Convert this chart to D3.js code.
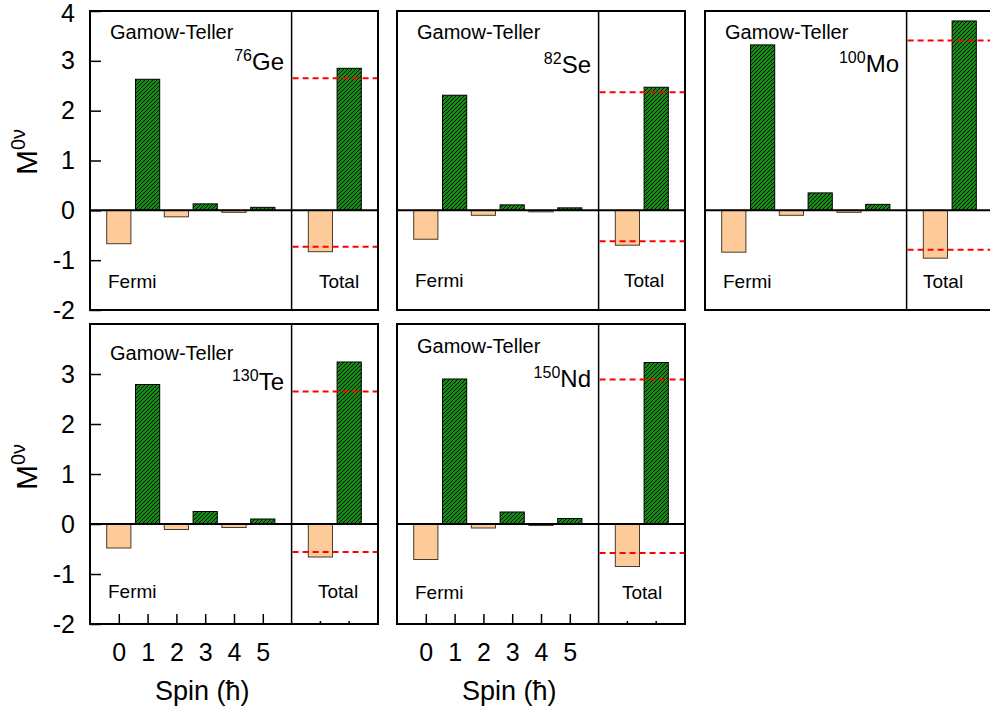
<!DOCTYPE html>
<html>
<head>
<meta charset="utf-8">
<script src="https://cdn.jsdelivr.net/npm/d3@7"></script>
<style>
  body { margin: 0; background: #fff; }
  svg { display: block; }
  svg text { font-family: Arial, "Liberation Sans", Helvetica, sans-serif; }
</style>
</head>
<body>
<svg id="chart" width="990" height="715"></svg>
<script>
(function () {
  'use strict';

  // data
  const spins = [0, 1, 2, 3, 4, 5];
  const yTicksTop = [4, 3, 2, 1, 0, -1, -2];
  const yTicksBottom = [3, 2, 1, 0, -1, -2];

  const massNumbers = ["76", "82", "100", "130", "150"];
  const symbols = ["Ge", "Se", "Mo", "Te", "Nd"];

  // per-spin contributions (even spins Fermi, odd spins Gamow-Teller)
  const geSpin = [-0.67, 2.63, -0.13, 0.13, -0.04, 0.06];
  const seSpin = [-0.58, 2.31, -0.10, 0.11, -0.03, 0.05];
  const moSpin = [-0.84, 3.32, -0.10, 0.35, -0.04, 0.12];
  const teSpin = [-0.48, 2.79, -0.11, 0.25, -0.07, 0.10];
  const ndSpin = [-0.71, 2.90, -0.08, 0.24, -0.03, 0.11];
  const spinValues = [geSpin, seSpin, moSpin, teSpin, ndSpin];

  const totalFermi = [-0.83, -0.70, -0.96, -0.66, -0.85];
  const totalGT = [2.85, 2.47, 3.80, 3.24, 3.23];
  const refFermi = [-0.73, -0.62, -0.79, -0.56, -0.58];
  const refGT = [2.65, 2.37, 3.41, 2.65, 2.89];

  // layout of the five panels
  const panels = [
    { left: 90, top: 11, h: 299, yAxis: true, xAxis: false, gtY: 28, nucY: 59, fermiY: 277, totalX: 229 },
    { left: 397, top: 11, h: 299, yAxis: false, xAxis: false, gtY: 28, nucY: 62, fermiY: 276, totalX: 227 },
    { left: 705, top: 11, h: 299, yAxis: false, xAxis: false, gtY: 28, nucY: 61, fermiY: 277, totalX: 218 },
    { left: 90, top: 324, h: 300, yAxis: true, xAxis: true, gtY: 36, nucY: 66, fermiY: 274, totalX: 228 },
    { left: 397, top: 324, h: 300, yAxis: false, xAxis: true, gtY: 29, nucY: 63, fermiY: 275, totalX: 225 }
  ];
  const panelW = 288;

  const fermiFill = "#fdca9a";
  const fermiStroke = "#4a3a2c";
  const gtFill = "#168c16";

  const svg = d3.select("#chart");

  const defs = svg.append("defs");
  const pat = defs.append("pattern")
    .attr("id", "hatch")
    .attr("patternUnits", "userSpaceOnUse")
    .attr("width", 4)
    .attr("height", 4);
  pat.append("rect").attr("width", 4).attr("height", 4).attr("fill", gtFill);
  pat.append("path")
    .attr("d", "M-1,1 l2,-2 M0,4 l4,-4 M3,5 l2,-2")
    .attr("stroke", "#000")
    .attr("stroke-width", 0.9);

  const x = d3.scaleLinear().domain([-1, 9]).range([0, panelW]);

  panels.forEach(function (p, i) {
    const y = d3.scaleLinear().domain([-2, 4]).range([p.h, 0]);
    const g = svg.append("g").attr("transform", `translate(${p.left},${p.top})`);

    // spin bars
    g.selectAll("rect.spin")
      .data(spins)
      .join("rect")
      .attr("class", "spin")
      .attr("x", s => x(s - 0.42))
      .attr("width", x(0.84) - x(0))
      .attr("y", s => y(Math.max(0, spinValues[i][s])))
      .attr("height", s => Math.abs(y(spinValues[i][s]) - y(0)))
      .attr("fill", s => s % 2 === 0 ? fermiFill : "url(#hatch)")
      .attr("stroke", s => s % 2 === 0 ? fermiStroke : "#000")
      .attr("stroke-width", 1);

    // total bars
    const totals = [{ pos: 7, v: totalFermi[i], f: true }, { pos: 8, v: totalGT[i], f: false }];
    g.selectAll("rect.total")
      .data(totals)
      .join("rect")
      .attr("class", "total")
      .attr("x", d => x(d.pos - 0.42))
      .attr("width", x(0.84) - x(0))
      .attr("y", d => y(Math.max(0, d.v)))
      .attr("height", d => Math.abs(y(d.v) - y(0)))
      .attr("fill", d => d.f ? fermiFill : "url(#hatch)")
      .attr("stroke", d => d.f ? fermiStroke : "#000")
      .attr("stroke-width", 1);

    // reference dashed lines
    g.selectAll("line.ref")
      .data([refFermi[i], refGT[i]])
      .join("line")
      .attr("class", "ref")
      .attr("x1", x(6) + 1)
      .attr("x2", x(9))
      .attr("y1", d => y(d))
      .attr("y2", d => y(d))
      .attr("stroke", "#ff0000")
      .attr("stroke-width", 2)
      .attr("stroke-dasharray", "6,4");

    // zero line
    g.append("line")
      .attr("x1", 0).attr("x2", x(9))
      .attr("y1", y(0)).attr("y2", y(0))
      .attr("stroke", "#000").attr("stroke-width", 2);

    // divider
    g.append("line")
      .attr("x1", x(6)).attr("x2", x(6))
      .attr("y1", 0).attr("y2", p.h)
      .attr("stroke", "#000").attr("stroke-width", 1.5);

    // frame
    g.append("rect")
      .attr("x", 0).attr("y", 0)
      .attr("width", x(9)).attr("height", p.h)
      .attr("fill", "none")
      .attr("stroke", "#000").attr("stroke-width", 2);

    // y axis
    if (p.yAxis) {
      const ticks = i === 0 ? yTicksTop : yTicksBottom;
      const ya = g.append("g")
        .call(d3.axisLeft(y).tickValues(ticks).tickSize(-11).tickPadding(15).tickFormat(d => String(d)));
      ya.attr("font-family", null).attr("font-size", null);
      ya.select(".domain").remove();
      ya.selectAll("line").attr("stroke", "#000").attr("stroke-width", 1.5);
      ya.selectAll("text")
        .attr("font-size", 25)
        .attr("fill", "#000");
      // keep the top "4" inside the page
      ya.selectAll(".tick").filter(d => d === 4).select("text").attr("y", 2);

      const lbl = svg.append("text")
        .attr("transform", `translate(${p.left - 53},${p.top + (i === 0 ? 141 : 143)}) rotate(-90)`)
        .attr("text-anchor", "middle")
        .attr("font-size", 30)
        .attr("fill", "#000");
      lbl.append("tspan").text("M");
      lbl.append("tspan").attr("font-size", 20).attr("dy", -12).text("0ν");
    }

    // x axis
    if (p.xAxis) {
      const xa = g.append("g")
        .attr("transform", `translate(0,${p.h})`)
        .call(d3.axisBottom(x).tickValues(spins).tickSize(-10).tickPadding(19).tickFormat(d => String(d)));
      xa.attr("font-family", null).attr("font-size", null);
      xa.select(".domain").remove();
      xa.selectAll("line").attr("stroke", "#000").attr("stroke-width", 1.5);
      xa.selectAll("text")
        .attr("font-size", 25)
        .attr("fill", "#000");

      g.selectAll("line.minor")
        .data([7, 8])
        .join("line")
        .attr("class", "minor")
        .attr("x1", d => x(d)).attr("x2", d => x(d))
        .attr("y1", p.h).attr("y2", p.h - 3)
        .attr("stroke", "#000").attr("stroke-width", 1.5);

      g.append("text")
        .attr("x", x(2.9))
        .attr("y", p.h + 76)
        .attr("text-anchor", "middle")
        .attr("font-size", 27)
        .attr("fill", "#000")
        .text("Spin (ħ)");
    }

    // labels
    g.append("text")
      .attr("x", 20).attr("y", p.gtY)
      .attr("font-size", 20).attr("fill", "#000")
      .text("Gamow-Teller");

    const nuc = g.append("text")
      .attr("x", 194).attr("y", p.nucY)
      .attr("text-anchor", "end")
      .attr("font-size", 24).attr("fill", "#000");
    nuc.append("tspan").attr("font-size", 16).attr("dy", -9).text(massNumbers[i]);
    nuc.append("tspan").attr("dy", 9).text(symbols[i]);

    g.append("text")
      .attr("x", 18).attr("y", p.fermiY)
      .attr("font-size", 19).attr("fill", "#000")
      .text("Fermi");

    g.append("text")
      .attr("x", p.totalX).attr("y", p.fermiY)
      .attr("font-size", 19).attr("fill", "#000")
      .text("Total");
  });
})();
</script>
</body>
</html>
